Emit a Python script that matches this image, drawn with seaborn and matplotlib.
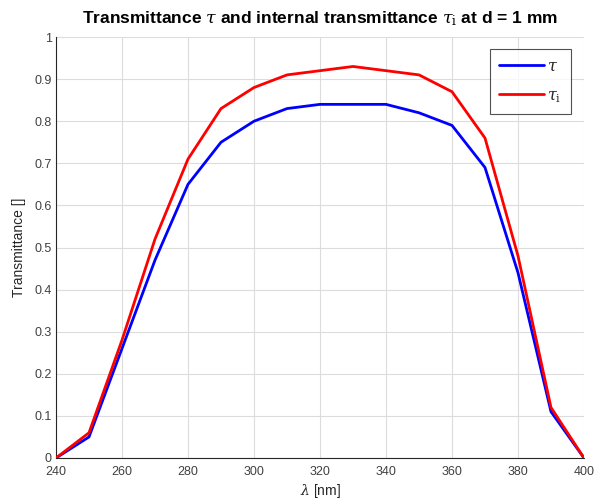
import matplotlib
matplotlib.use("Agg")
import matplotlib.pyplot as plt
import seaborn as sns
import pandas as pd

wavelength = [240, 250, 260, 270, 280, 290, 300, 310, 320, 330, 340, 350, 360, 370, 380, 390, 400]
tau = [0.0, 0.05, 0.26, 0.47, 0.65, 0.75, 0.80, 0.83, 0.84, 0.84, 0.84, 0.82, 0.79, 0.69, 0.44, 0.11, 0.0]
tau_i = [0.0, 0.06, 0.28, 0.52, 0.71, 0.83, 0.88, 0.91, 0.92, 0.93, 0.92, 0.91, 0.87, 0.76, 0.48, 0.12, 0.0]
series_labels = [r"$\tau$", r"$\tau_{\rm i}$"]
x_ticks = [240, 260, 280, 300, 320, 340, 360, 380, 400]
y_ticks = [0, 0.1, 0.2, 0.3, 0.4, 0.5, 0.6, 0.7, 0.8, 0.9, 1]
y_ticklabels = ["0", "0.1", "0.2", "0.3", "0.4", "0.5", "0.6", "0.7", "0.8", "0.9", "1"]

sns.set_style("white")
plt.rcParams["font.family"] = ["Liberation Sans", "DejaVu Sans"]
plt.rcParams["mathtext.fontset"] = "dejavuserif"

df = pd.DataFrame({
    "wl": wavelength * 2,
    "T": tau + tau_i,
    "series": [series_labels[0]] * len(wavelength) + [series_labels[1]] * len(wavelength),
})

fig = plt.figure(figsize=(5.94, 5.04), dpi=100)
ax = fig.add_axes([56 / 594, 1 - 458 / 504, (584 - 56) / 594, (458 - 37) / 504])

sns.lineplot(data=df, x="wl", y="T", hue="series", palette=["#0000ff", "#ff0000"],
             linewidth=2.0, ax=ax, legend=True, zorder=3)

ax.set_xlim(240, 400)
ax.set_ylim(0, 1)
ax.set_xticks(x_ticks)
ax.set_yticks(y_ticks)
ax.set_yticklabels(y_ticklabels)
ax.grid(True, color="#dcdcdc", linewidth=0.8, zorder=0)
ax.set_axisbelow(True)
for s in ["top", "right"]:
    ax.spines[s].set_visible(False)
for s in ["left", "bottom"]:
    ax.spines[s].set_color("#262626")
    ax.spines[s].set_linewidth(0.8)
ax.tick_params(direction="in", length=4, width=0.8, colors="#262626",
               labelsize=9, labelcolor="#404040")
ax.tick_params(axis="x", pad=6)
ax.tick_params(axis="y", pad=3)

ax.set_xlabel(r"$\lambda$ [nm]", fontsize=10, color="#262626", labelpad=3)
ax.set_ylabel("Transmittance []", fontsize=10, color="#262626", labelpad=6)
ax.set_title(r"Transmittance $\tau$ and internal transmittance $\tau_{\rm i}$ at d = 1 mm",
             fontsize=12.5, fontweight="bold", color="black", pad=10)

leg = ax.legend(loc="upper right", bbox_to_anchor=(571 / 594, 1 - 49 / 504),
                bbox_transform=fig.transFigure, fontsize=11.5, frameon=True,
                fancybox=False, edgecolor="#262626", handlelength=2.8,
                borderpad=0.6, labelspacing=0.9, handletextpad=0.2, borderaxespad=0)
leg.get_frame().set_linewidth(0.8)
leg.set_title(None)

fig.savefig("out.png", dpi=100)
